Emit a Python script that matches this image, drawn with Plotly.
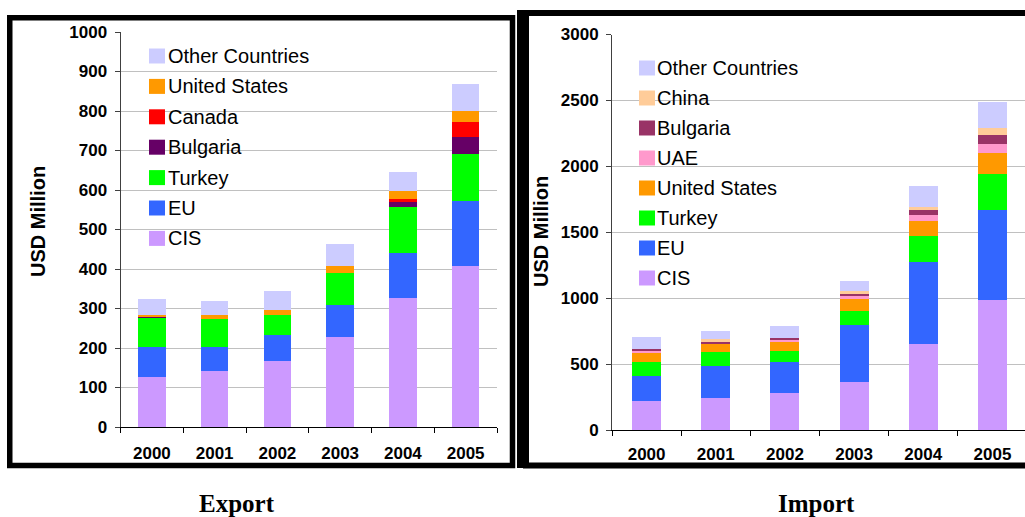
import plotly.graph_objects as go

W, H = 1025, 517

years = ["2000", "2001", "2002", "2003", "2004", "2005"]

# Export (USD Million)
exp_cis = [127, 142, 167, 228, 327, 408]
exp_eu = [76, 61, 66, 82, 113, 165]
exp_turkey = [74, 71, 50, 80, 117, 118]
exp_bulgaria = [2, 0, 0, 0, 15, 43]
exp_canada = [1, 0, 0, 0, 5, 38]
exp_us = [4, 10, 14, 18, 20, 28]
exp_other = [41, 35, 47, 55, 48, 69]

# Import (USD Million)
imp_cis = [222, 245, 283, 366, 654, 987]
imp_eu = [189, 242, 234, 432, 622, 684]
imp_turkey = [106, 106, 84, 106, 197, 273]
imp_us = [76, 68, 76, 91, 111, 157]
imp_uae = [13, 3, 15, 30, 46, 68]
imp_bulgaria = [10, 13, 8, 10, 38, 68]
imp_china = [0, 15, 0, 20, 23, 55]
imp_other = [91, 63, 90, 76, 159, 200]

export_series = [
    ("CIS", exp_cis, "#CC99FF"),
    ("EU", exp_eu, "#3366FF"),
    ("Turkey", exp_turkey, "#00FF00"),
    ("Bulgaria", exp_bulgaria, "#660066"),
    ("Canada", exp_canada, "#FF0000"),
    ("United States", exp_us, "#FF9900"),
    ("Other Countries", exp_other, "#CCCCFF"),
]
import_series = [
    ("CIS", imp_cis, "#CC99FF"),
    ("EU", imp_eu, "#3366FF"),
    ("Turkey", imp_turkey, "#00FF00"),
    ("United States", imp_us, "#FF9900"),
    ("UAE", imp_uae, "#FF99CC"),
    ("Bulgaria", imp_bulgaria, "#993366"),
    ("China", imp_china, "#FFCC99"),
    ("Other Countries", imp_other, "#CCCCFF"),
]

FONT = "Arial, Liberation Sans, sans-serif"


def px_x(x):
    return x / W


def px_y(y):
    return (H - y) / H


fig = go.Figure()
for name, vals, col in export_series:
    fig.add_trace(go.Bar(x=years, y=vals, name=name, marker=dict(color=col, line=dict(width=0)),
                         width=0.44, xaxis="x", yaxis="y", showlegend=False))
for name, vals, col in import_series:
    fig.add_trace(go.Bar(x=years, y=vals, name=name, marker=dict(color=col, line=dict(width=0)),
                         width=0.42, xaxis="x2", yaxis="y2", showlegend=False))

shapes = []
annotations = []

# manual legends
def add_legend(series, sw_x0, text_x, y_first, step):
    for i, (name, vals, col) in enumerate(reversed(series)):
        yc = y_first + i * step
        shapes.append(dict(type="rect", xref="paper", yref="paper",
                           x0=px_x(sw_x0), x1=px_x(sw_x0 + 16),
                           y0=px_y(yc + 7.5), y1=px_y(yc - 7.5),
                           fillcolor=col, line=dict(width=0), layer="above"))
        annotations.append(dict(text=name, xref="paper", yref="paper",
                                x=px_x(text_x), y=px_y(yc), xanchor="left", yanchor="middle",
                                showarrow=False, font=dict(family=FONT, size=20, color="#000000")))

add_legend(export_series, 149, 166, 56, 30.4)
add_legend(import_series, 639, 655, 68, 30.0)

# frames
shapes.append(dict(type="rect", xref="paper", yref="paper",
                   x0=px_x(9.75), x1=px_x(512.5), y0=px_y(465.5), y1=px_y(17.75),
                   line=dict(color="#000000", width=5.5), fillcolor="rgba(0,0,0,0)"))
shapes.append(dict(type="rect", xref="paper", yref="paper",
                   x0=px_x(526), x1=px_x(1040), y0=px_y(465.5), y1=px_y(13),
                   line=dict(color="#000000", width=6), fillcolor="rgba(0,0,0,0)"))
shapes.append(dict(type="rect", xref="paper", yref="paper",
                   x0=px_x(517), x1=px_x(528), y0=px_y(468), y1=px_y(10),
                   line=dict(width=0), fillcolor="#000000"))

# axis titles
annotations.append(dict(text="<b>USD Million</b>", xref="paper", yref="paper",
                        x=px_x(38), y=px_y(222), textangle=-90, showarrow=False,
                        xanchor="center", yanchor="middle",
                        font=dict(family=FONT, size=20, color="#000000")))
annotations.append(dict(text="<b>USD Million</b>", xref="paper", yref="paper",
                        x=px_x(541), y=px_y(232), textangle=-90, showarrow=False,
                        xanchor="center", yanchor="middle",
                        font=dict(family=FONT, size=20, color="#000000")))
# panel captions
annotations.append(dict(text="<b>Export</b>", xref="paper", yref="paper",
                        x=px_x(237), y=px_y(503), showarrow=False,
                        xanchor="center", yanchor="middle",
                        font=dict(family="Times New Roman, Liberation Serif, serif", size=25, color="#000000")))
annotations.append(dict(text="<b>Import</b>", xref="paper", yref="paper",
                        x=px_x(816), y=px_y(503), showarrow=False,
                        xanchor="center", yanchor="middle",
                        font=dict(family="Times New Roman, Liberation Serif, serif", size=25, color="#000000")))

tickfont = dict(family=FONT, size=17, color="#000000", weight="bold")

common_y = dict(showgrid=True, gridcolor="#C0C0C0", gridwidth=1, showline=True,
                linecolor="#404040", linewidth=1, ticks="outside", ticklen=5,
                tickcolor="#404040", tickfont=tickfont, zeroline=False,
                ticklabelstandoff=4, automargin=False)
common_x = dict(type="category", showline=True, linecolor="#000000", linewidth=1,
                ticks="outside", ticklen=5, tickcolor="#000000", tickson="boundaries",
                tickfont=tickfont, showgrid=False, automargin=False)

fig.update_layout(
    width=W, height=H,
    autosize=False,
    margin=dict(l=0, r=0, t=0, b=0, pad=0, autoexpand=False),
    paper_bgcolor="#FFFFFF", plot_bgcolor="#FFFFFF",
    barmode="stack",
    showlegend=False,
    xaxis=dict(domain=[px_x(120.5), px_x(497)], range=[-0.5, 5.5], anchor="y",
               ticklabelstandoff=11, **common_x),
    yaxis=dict(domain=[px_y(427), px_y(32)], range=[0, 1000], dtick=100, anchor="x", **common_y),
    xaxis2=dict(domain=[px_x(612), 1.0], range=[-0.5, 5.5 - 2 / 69.2], anchor="y2",
                ticklabelstandoff=8, **common_x),
    yaxis2=dict(domain=[px_y(430.3), px_y(34.5)], range=[0, 3000], dtick=500, anchor="x2", **common_y),
    shapes=shapes,
    annotations=annotations,
)

fig.write_html("out.html")
